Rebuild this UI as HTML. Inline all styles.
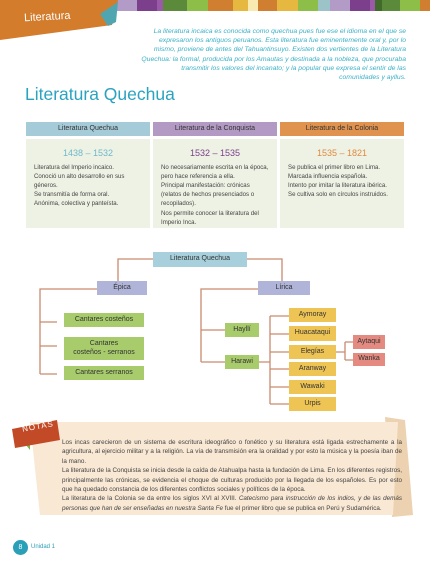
<!DOCTYPE html><html><head><meta charset="utf-8"><style>
*{margin:0;padding:0;box-sizing:border-box}
body{width:430px;height:563px;background:#fff;position:relative;overflow:hidden;font-family:"Liberation Sans",sans-serif}
.a{position:absolute}
.bar div{position:absolute;top:0;height:11px}
.intro{left:140px;top:27px;width:266px;text-align:right;font-style:italic;color:#3ab0c6;font-size:6.8px;line-height:9.2px}
.h{top:122px;height:14px;font-size:7px;text-align:center;line-height:14px;color:#333}
.b{top:139px;height:89px;background:#eef2e4;font-size:6.1px;line-height:9.1px;color:#444;padding:0 8px}
.b .y{text-align:center;font-size:9px;margin:10px 0 5px}
.n{position:absolute;font-size:7px;color:#333;text-align:center;display:flex;align-items:center;justify-content:center;line-height:8.5px}
.g{background:#a8cc6c}.yl{background:#eec454}.r{background:#e48a80}
.notes{left:62px;top:438px;width:340px;font-size:6.3px;line-height:9.4px;color:#444;text-align:justify}
</style></head><body>
<div class="bar">
<div style="left:117px;width:20px;background:#b39bc8"></div><div style="left:137px;width:20px;background:#7b3f8c"></div><div style="left:157px;width:6px;background:#9a5aa8"></div><div style="left:163px;width:24px;background:#5a8a3a"></div><div style="left:187px;width:21px;background:#8dbf48"></div><div style="left:208px;width:25px;background:#d07e30"></div><div style="left:233px;width:15px;background:#e6b840"></div><div style="left:248px;width:10px;background:#f8eab0"></div><div style="left:258px;width:19px;background:#d07e30"></div><div style="left:277px;width:21px;background:#e6b840"></div><div style="left:298px;width:20px;background:#8dbf48"></div><div style="left:318px;width:12px;background:#9cc4c8"></div><div style="left:330px;width:20px;background:#b39bc8"></div><div style="left:350px;width:20px;background:#7b3f8c"></div><div style="left:370px;width:5px;background:#9a5aa8"></div><div style="left:375px;width:7px;background:#3f6a2a"></div><div style="left:382px;width:18px;background:#5a8a3a"></div><div style="left:400px;width:20px;background:#8dbf48"></div><div style="left:420px;width:10px;background:#d07e30"></div>
</div>
<svg class="a" style="left:0;top:0" width="125" height="45"><polygon points="0,0 118,0 112,25 0,40" fill="#d27c2c"/><polygon points="100,14 118,2 116,22 108,26" fill="#4fa6b0"/></svg>
<div class="a" style="left:24px;top:11px;color:#fff;font-size:11px;transform:rotate(-3deg)">Literatura</div>
<div class="a intro">La literatura incaica es conocida como quechua pues fue ese el idioma en el que se expresaron los antiguos peruanos. Esta literatura fue eminentemente oral y, por lo mismo, proviene de antes del Tahuantinsuyo. Existen dos vertientes de la Literatura Quechua: la formal, producida por los Amautas y destinada a la nobleza, que procuraba transmitir los valores del incanato; y la popular que expresa el sentir de las comunidades y ayllus.</div>
<div class="a" style="left:25px;top:84px;font-size:17.5px;color:#2aa3bf">Literatura Quechua</div>
<div class="a h" style="left:26px;width:124px;background:#a6cbd8">Literatura Quechua</div>
<div class="a h" style="left:153px;width:124px;background:#b39ac4">Literatura de la Conquista</div>
<div class="a h" style="left:280px;width:124px;background:#e0934e">Literatura de la Colonia</div>
<div class="a b" style="left:26px;width:124px"><div class="y" style="color:#6fb8cc">1438 – 1532</div>Literatura del Imperio incaico.<br>Conoció un alto desarrollo en sus géneros.<br>Se transmitía de forma oral.<br>Anónima, colectiva y panteísta.</div>
<div class="a b" style="left:153px;width:124px"><div class="y" style="color:#7b3f8c">1532 – 1535</div>No necesariamente escrita en la época, pero hace referencia a ella.<br>Principal manifestación: crónicas (relatos de hechos presenciados o recopilados).<br>Nos permite conocer la literatura del Imperio Inca.</div>
<div class="a b" style="left:280px;width:124px"><div class="y" style="color:#e08a40">1535 – 1821</div>Se publica el primer libro en Lima.<br>Marcada influencia española.<br>Intento por imitar la literatura ibérica.<br>Se cultiva solo en círculos instruidos.</div>
<svg class="a" style="left:0;top:0" width="430" height="563" fill="none" stroke="#c98a6e" stroke-width="1.3">
<path d="M153 259H118V281M247 259H282V281"/>
<path d="M97 289H40V374M40 322H57M40 346H57M40 374H57"/>
<path d="M258 289H201V362M201 330H225M201 362H225"/>
<path d="M259 362H270M270 316V404M270 316H289M270 334H289M270 352H289M270 369H289M270 387H289M270 404H289"/>
<path d="M336 352H345M345 342V360M345 342H353M345 360H353"/>
</svg>
<div class="n" style="left:153px;top:252px;width:94px;height:15px;background:#a8d0dc">Literatura Quechua</div>
<div class="n" style="left:97px;top:281px;width:50px;height:14px;background:#b0b4d8">Épica</div>
<div class="n" style="left:258px;top:281px;width:52px;height:14px;background:#b0b4d8">Lírica</div>
<div class="n g" style="left:64px;top:313px;width:80px;height:14px">Cantares costeños</div>
<div class="n g" style="left:64px;top:337px;width:80px;height:23px">Cantares<br>costeños - serranos</div>
<div class="n g" style="left:64px;top:366px;width:80px;height:14px">Cantares serranos</div>
<div class="n g" style="left:225px;top:323px;width:34px;height:14px">Hayllí</div>
<div class="n g" style="left:225px;top:355px;width:34px;height:14px">Harawi</div>
<div class="n yl" style="left:289px;top:308px;width:47px;height:14px">Aymoray</div>
<div class="n yl" style="left:289px;top:326px;width:47px;height:15px">Huacataqui</div>
<div class="n yl" style="left:289px;top:345px;width:47px;height:14px">Elegías</div>
<div class="n yl" style="left:289px;top:362px;width:47px;height:14px">Aranway</div>
<div class="n yl" style="left:289px;top:380px;width:47px;height:14px">Wawaki</div>
<div class="n yl" style="left:289px;top:397px;width:47px;height:14px">Urpis</div>
<div class="n r" style="left:353px;top:335px;width:32px;height:14px">Aytaqui</div>
<div class="n r" style="left:353px;top:353px;width:32px;height:13px">Wanka</div>
<svg class="a" style="left:0;top:410px" width="430" height="120"><polygon points="385,7 405,10 413,105 392,107" fill="#ecd2b0"/><polygon points="30,12 398,12 393,105 40,105" fill="#f8e8d4"/><polygon points="22,30 30,30 30,40" fill="#7ab840"/><polygon points="12,19 57,10 60,30 15,38" fill="#c24a26"/></svg>
<div class="a" style="left:22px;top:422px;color:#fff;font-size:8px;letter-spacing:1px;transform:rotate(-10deg)">NOTAS</div>
<div class="a notes">Los incas carecieron de un sistema de escritura ideográfico o fonético y su literatura está ligada estrechamente a la agricultura, al ejercicio militar y a la religión. La vía de transmisión era la oralidad y por esto la música y la poesía iban de la mano.<br>La literatura de la Conquista se inicia desde la caída de Atahualpa hasta la fundación de Lima. En los diferentes registros, principalmente las crónicas, se evidencia el choque de culturas producido por la llegada de los españoles. Es por esto que ha quedado constancia de los diferentes conflictos sociales y políticos de la época.<br>La literatura de la Colonia se da entre los siglos XVI al XVIII. <i>Catecismo para instrucción de los indios, y de las demás personas que han de ser enseñadas en nuestra Santa Fe</i> fue el primer libro que se publica en Perú y Sudamérica.</div>
<div class="a" style="left:13px;top:540px;width:15px;height:15px;border-radius:50%;background:#2a9fb8;color:#fff;font-size:7px;text-align:center;line-height:15px">8</div>
<div class="a" style="left:31px;top:544px;font-size:6px;color:#2a9fb8">Unidad 1</div>
</body></html>
